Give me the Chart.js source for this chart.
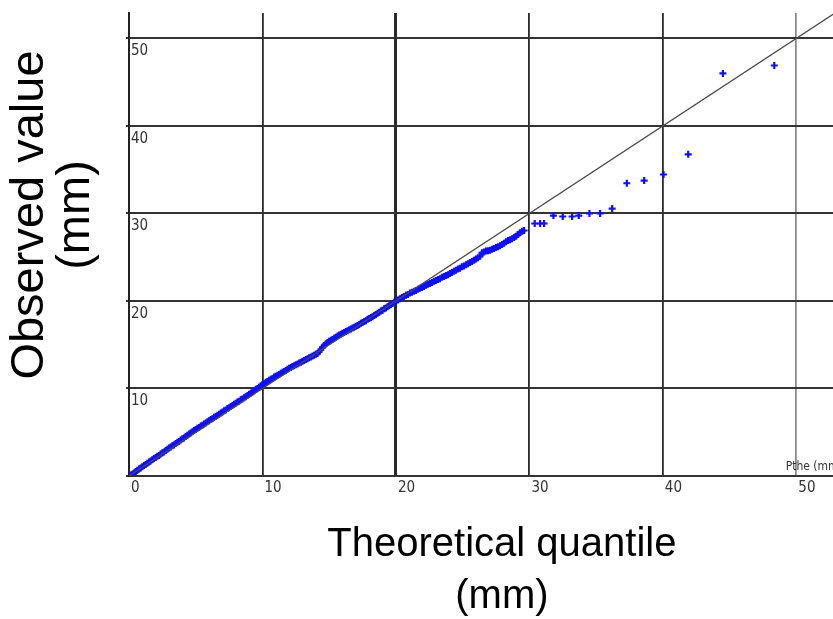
<!DOCTYPE html>
<html>
<head>
<meta charset="utf-8">
<script src="https://cdn.jsdelivr.net/npm/chart.js@4.4.0/dist/chart.umd.min.js"></script>
<style>
  html, body { margin: 0; padding: 0; background: #fff; overflow: hidden; }
  #wrap { width: 833px; height: 619px; overflow: hidden; }
  canvas { display: block; }
</style>
</head>
<body>
<div id="wrap"><canvas id="chart" width="881" height="619"></canvas></div>
<script>
// theoretical quantiles (mm)
const theoretical = [
  0, 0.125, 0.25, 0.375, 0.5, 0.625, 0.75, 0.875, 1, 1.125, 1.25, 1.375, 1.5, 1.625, 1.75, 1.875,
  2, 2.125, 2.25, 2.375, 2.5, 2.625, 2.75, 2.875, 3, 3.125, 3.25, 3.375, 3.5, 3.625, 3.75, 3.875,
  4, 4.125, 4.25, 4.375, 4.5, 4.625, 4.75, 4.875, 5, 5.125, 5.25, 5.375, 5.5, 5.625, 5.75, 5.875,
  6, 6.125, 6.25, 6.375, 6.5, 6.625, 6.75, 6.875, 7, 7.125, 7.25, 7.375, 7.5, 7.625, 7.75, 7.875,
  8, 8.125, 8.25, 8.375, 8.5, 8.625, 8.75, 8.875, 9, 9.125, 9.25, 9.375, 9.5, 9.625, 9.75, 9.875,
  10, 10.125, 10.25, 10.375, 10.5, 10.625, 10.75, 10.875, 11, 11.125, 11.25, 11.375, 11.5, 11.625, 11.75, 11.875,
  12, 12.125, 12.25, 12.375, 12.5, 12.625, 12.75, 12.875, 13, 13.125, 13.25, 13.375, 13.5, 13.625, 13.75, 13.875,
  14, 14.125, 14.25, 14.375, 14.5, 14.625, 14.75, 14.875, 15, 15.125, 15.25, 15.375, 15.5, 15.625, 15.75, 15.875,
  16, 16.125, 16.25, 16.375, 16.5, 16.625, 16.75, 16.875, 17, 17.125, 17.25, 17.375, 17.5, 17.625, 17.75, 17.875,
  18, 18.125, 18.25, 18.375, 18.5, 18.625, 18.75, 18.875, 19, 19.125, 19.25, 19.375, 19.5, 19.625, 19.75, 19.875, 20,
  20.15, 20.3, 20.45, 20.6, 20.75, 20.9, 21.05, 21.2, 21.35, 21.5, 21.65, 21.8, 21.95, 22.1, 22.25, 22.4,
  22.55, 22.7, 22.85, 23.0, 23.15, 23.3, 23.45, 23.6, 23.75, 23.9, 24.05, 24.2, 24.35, 24.5, 24.65, 24.8,
  24.95, 25.1, 25.25, 25.4, 25.55, 25.7, 25.85, 26.0, 26.15, 26.3, 26.45, 26.6, 26.75, 26.9, 27.05, 27.2,
  27.35, 27.5, 27.65, 27.8, 27.95, 28.1, 28.25, 28.4, 28.55, 28.7, 28.85, 29.0, 29.15, 29.3, 29.45, 29.6,
  30.4, 30.8, 31.1, 31.8, 32.5, 33.2, 33.7, 34.5, 35.3, 36.2,
  37.3, 38.6, 40.05, 41.9, 44.5, 48.35
];
// observed values (mm)
const observed = [
  0, 0.1, 0.2, 0.35, 0.5, 0.65, 0.8, 0.9, 1.05, 1.2, 1.3, 1.45, 1.6, 1.7, 1.85, 2.0,
  2.1, 2.25, 2.35, 2.5, 2.65, 2.75, 2.9, 3.05, 3.2, 3.3, 3.45, 3.55, 3.7, 3.85, 3.95, 4.1,
  4.25, 4.35, 4.5, 4.65, 4.8, 4.9, 5.05, 5.2, 5.3, 5.45, 5.55, 5.7, 5.8, 5.95, 6.05, 6.2,
  6.3, 6.45, 6.55, 6.7, 6.8, 6.95, 7.05, 7.2, 7.3, 7.45, 7.55, 7.7, 7.8, 7.95, 8.05, 8.2,
  8.3, 8.45, 8.55, 8.7, 8.8, 8.95, 9.05, 9.2, 9.35, 9.45, 9.6, 9.75, 9.9, 10.0, 10.15, 10.3,
  10.45, 10.55, 10.7, 10.8, 10.95, 11.05, 11.15, 11.3, 11.4, 11.5, 11.6, 11.75, 11.85, 11.95, 12.05, 12.2,
  12.3, 12.4, 12.5, 12.6, 12.7, 12.8, 12.9, 13.0, 13.1, 13.2, 13.3, 13.4, 13.5, 13.6, 13.7, 13.8,
  13.9, 14.0, 14.2, 14.45, 14.7, 14.9, 15.1, 15.25, 15.4, 15.5, 15.6, 15.75, 15.85, 16.0, 16.1, 16.2,
  16.3, 16.4, 16.5, 16.6, 16.7, 16.8, 16.9, 17.0, 17.1, 17.2, 17.3, 17.45, 17.55, 17.65, 17.75, 17.9,
  18.0, 18.1, 18.2, 18.35, 18.45, 18.6, 18.7, 18.85, 18.95, 19.1, 19.2, 19.35, 19.45, 19.6, 19.7, 19.85, 19.95,
  20.1, 20.25, 20.4, 20.5, 20.65, 20.75, 20.9, 21.0, 21.1, 21.2, 21.35, 21.45, 21.55, 21.65, 21.8, 21.9,
  22.0, 22.1, 22.25, 22.35, 22.45, 22.55, 22.7, 22.8, 22.9, 23.0, 23.15, 23.25, 23.4, 23.5, 23.65, 23.75,
  23.9, 24.0, 24.15, 24.25, 24.4, 24.5, 24.65, 24.8, 24.95, 25.1, 25.5, 25.6, 25.7, 25.75, 25.8, 25.9,
  26.0, 26.1, 26.2, 26.3, 26.45, 26.6, 26.75, 26.9, 27.0, 27.1, 27.25, 27.4, 27.6, 27.8, 27.95, 28.05,
  28.85, 28.85, 28.85, 29.75, 29.65, 29.65, 29.75, 30.0, 30.0, 30.55,
  33.45, 33.75, 34.45, 36.75, 46.0, 46.9
];
// reference line y = x
const refLine = [0, 57];
const xTickValues = [0, 10, 20, 30, 40, 50];
const yTickValues = [0, 10, 20, 30, 40, 50];
const yTitle = ['Observed value', '(mm)'];
const xTitle = ['Theoretical quantile', '(mm)'];
const axisNote = 'Pthe (mm)';

const narrow = '"Liberation Sans Narrow", "DejaVu Sans Condensed", "Arial Narrow", sans-serif';
const sans = '"Liberation Sans", Arial, sans-serif';

// y title and small axis note, drawn on top of the chart
const extraText = {
  id: 'extraText',
  afterDraw(chart) {
    const ctx = chart.ctx;
    const xs = chart.scales.x;
    const area = chart.chartArea;
    ctx.save();
    ctx.fillStyle = '#333';
    ctx.font = '12px ' + narrow;
    ctx.textAlign = 'left';
    ctx.textBaseline = 'bottom';
    ctx.fillText(axisNote, xs.getPixelForValue(49.2), area.bottom - 3);

    ctx.fillStyle = '#000';
    ctx.font = '47px ' + sans;
    ctx.textAlign = 'center';
    ctx.textBaseline = 'middle';
    const cx = [30, 76];
    yTitle.forEach((line, i) => {
      ctx.save();
      ctx.translate(cx[i], 215);
      ctx.rotate(-Math.PI / 2);
      ctx.fillText(line, 0, 0);
      ctx.restore();
    });
    ctx.restore();
  }
};

new Chart(document.getElementById('chart'), {
  type: 'scatter',
  data: {
    datasets: [
      {
        label: 'y = x',
        type: 'line',
        data: refLine.map(v => ({ x: v, y: v })),
        borderColor: '#4a4a4a',
        borderWidth: 1.3,
        pointRadius: 0,
        fill: false,
        order: 0
      },
      {
        label: 'Observed',
        data: theoretical.map((t, i) => ({ x: t, y: observed[i] })),
        pointStyle: 'cross',
        pointRadius: 3.5,
        borderColor: '#1010ff',
        backgroundColor: '#1010ff',
        borderWidth: 2.2,
        order: 1
      }
    ]
  },
  options: {
    responsive: false,
    animation: false,
    devicePixelRatio: 1,
    layout: { padding: { top: 13, right: 0, bottom: 0, left: 0 } },
    plugins: {
      legend: { display: false },
      tooltip: { enabled: false }
    },
    scales: {
      x: {
        type: 'linear',
        position: 'bottom',
        min: 0,
        max: 55.88,
        afterFit: s => { s.height = 143; },
        afterBuildTicks: s => { s.ticks = xTickValues.map(v => ({ value: v })); },
        ticks: {
          align: 'start',
          labelOffset: 2,
          padding: 3,
          maxRotation: 0,
          color: '#333',
          font: { family: narrow, size: 15 }
        },
        grid: {
          drawTicks: false,
          color: c => c.tick && c.tick.value === 50 ? '#8c8c8c' : '#2a2a2a',
          lineWidth: c => c.tick && c.tick.value === 20 ? 3 : 1.8
        },
        border: { display: true, color: '#333', width: 2 },
        title: {
          display: true,
          text: xTitle,
          color: '#000',
          font: { family: sans, size: 40, lineHeight: '52px' },
          padding: { top: 0, bottom: -4 }
        }
      },
      y: {
        type: 'linear',
        min: 0,
        max: 52.9,
        afterFit: s => { s.width = 129; },
        afterBuildTicks: s => { s.ticks = yTickValues.map(v => ({ value: v })); },
        ticks: {
          mirror: true,
          padding: 2,
          labelOffset: 13,
          color: '#333',
          font: { family: narrow, size: 15 },
          callback: v => (v === 0 ? '' : String(v))
        },
        grid: { color: '#333', lineWidth: 2, tickLength: 3 },
        border: { display: true, color: '#222', width: 2 }
      }
    }
  },
  plugins: [extraText]
});
</script>
</body>
</html>
